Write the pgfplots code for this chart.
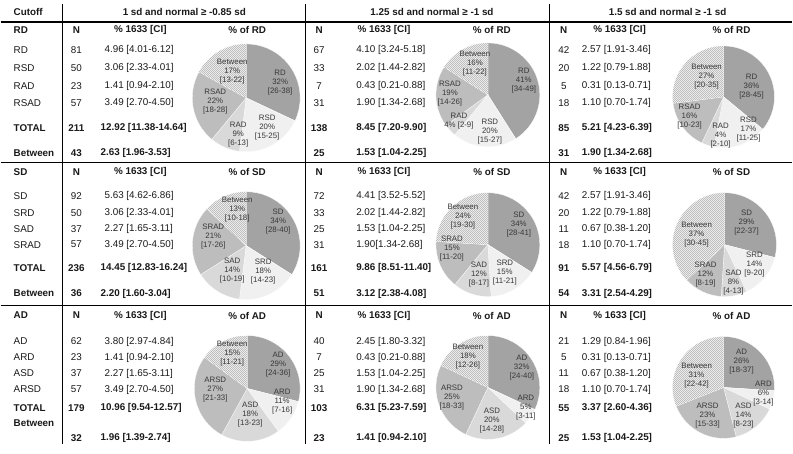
\documentclass[border=0pt]{standalone}
\usepackage{fontspec}
\setmainfont{Liberation Sans}
\usepackage{pgfplots}
\pgfplotsset{compat=1.18}
\usetikzlibrary{patterns}
\definecolor{sA}{HTML}{A3A3A3}
\definecolor{sB}{HTML}{F0F0F0}
\definecolor{sC}{HTML}{D9D9D9}
\definecolor{sD}{HTML}{BDBDBD}
\definecolor{txt}{HTML}{1A1A1A}
\pgfdeclarepatternformonly{checker}{\pgfqpoint{0pt}{0pt}}{\pgfqpoint{2bp}{2bp}}{\pgfqpoint{2bp}{2bp}}%
  {\pgfpathrectangle{\pgfqpoint{0pt}{0pt}}{\pgfqpoint{1bp}{1bp}}%
   \pgfpathrectangle{\pgfqpoint{1bp}{1bp}}{\pgfqpoint{1bp}{1bp}}\pgfusepath{fill}}
\tikzset{
  tb/.style={font=\fontsize{9.9}{11}\selectfont, inner sep=0pt, text=txt},
  tbb/.style={font=\fontsize{9.9}{11}\selectfont\bfseries, inner sep=0pt, text=txt},
  lbl/.style={font=\fontsize{7.9}{9}\selectfont, align=center, inner sep=0pt, text=black!78},
  bt/.style={fill=gray!10, postaction={pattern=checker, pattern color=gray!50}},
}
\newcommand{\ci}[1]{{[}#1{]}}
% one pie slice: cx, cy, radius, from %, to %, style, label, label dx, label dy
\newcommand{\slice}[9]{%
  \fill[#6,draw=white,line width=0.3pt] (axis cs:#1,#2) -- ++({90-3.6*#4}:#3bp)
    arc[start angle={90-3.6*#4},end angle={90-3.6*#5},radius=#3bp] -- cycle;
  \begin{pgfonlayer}{axis foreground}
  \path (axis cs:#1,#2) ++(#8bp,#9bp) node[lbl]{#7};
  \end{pgfonlayer}}
% table rows: y, label, n1, ci1, n2, ci2, n3, ci3
\newcommand{\trow}[8]{%
  \node[tb,anchor=west] at (axis cs:13,#1) {#2};
  \node[tb] at (axis cs:76,#1) {#3};
  \node[tb,anchor=west] at (axis cs:104,#1) {#4};
  \node[tb] at (axis cs:319,#1) {#5};
  \node[tb,anchor=west] at (axis cs:356,#1) {#6};
  \node[tb] at (axis cs:564,#1) {#7};
  \node[tb,anchor=west] at (axis cs:582,#1) {#8};}
\newcommand{\brow}[8]{%
  \node[tbb,anchor=west] at (axis cs:13,#1) {#2};
  \node[tbb] at (axis cs:76,#1) {#3};
  \node[tbb,anchor=west] at (axis cs:100,#1) {#4};
  \node[tbb] at (axis cs:319,#1) {#5};
  \node[tbb,anchor=west] at (axis cs:356,#1) {#6};
  \node[tbb] at (axis cs:564,#1) {#7};
  \node[tbb,anchor=west] at (axis cs:582,#1) {#8};}
\newcommand{\shead}[3]{%
  \node[tbb,anchor=west] at (axis cs:13,#1) {#2};
  \node[tbb] at (axis cs:76,#1) {N};
  \node[tbb] at (axis cs:319,#1) {N};
  \node[tbb] at (axis cs:564,#1) {N};
  \node[tbb] at (axis cs:140,#1) {\% 1633 [CI]};
  \node[tbb] at (axis cs:384,#1) {\% 1633 [CI]};
  \node[tbb] at (axis cs:620,#1) {\% 1633 [CI]};
  \node[tbb] at (axis cs:247,#1) {\% of #3};
  \node[tbb] at (axis cs:492,#1) {\% of #3};
  \node[tbb] at (axis cs:732,#1) {\% of #3};}

\begin{document}
\begin{tikzpicture}
\begin{axis}[hide axis, scale only axis, width=793bp, height=454bp, set layers,
  xmin=0, xmax=793, ymin=0, ymax=454, y dir=reverse, clip=false]
\addplot[draw=none] coordinates {(0,0) (793,454)};
\begin{pgfonlayer}{axis background}
\fill[white] (axis cs:0,0) rectangle (axis cs:793,454);
\end{pgfonlayer}
% rules
\draw[black, line width=1.1pt] (axis cs:0,22) -- (axis cs:793,22);
\draw[black, line width=0.7pt] (axis cs:0,163) -- (axis cs:793,163);
\draw[black, line width=0.7pt] (axis cs:0,306) -- (axis cs:793,306);
\draw[black, line width=0.8pt] (axis cs:62,4) -- (axis cs:62,445);
\draw[black, line width=0.8pt] (axis cs:305,4) -- (axis cs:305,445);
\draw[black, line width=0.8pt] (axis cs:550,4) -- (axis cs:550,445);
% header
\node[tbb,anchor=west] at (axis cs:13,12) {Cutoff};
\node[tbb] at (axis cs:184,12) {1 sd and normal ≥ -0.85 sd};
\node[tbb] at (axis cs:432,12) {1.25 sd and normal ≥ -1 sd};
\node[tbb] at (axis cs:668,12) {1.5 sd and normal ≥ -1 sd};
% section RD
\shead{30}{RD}{RD}
\trow{50}{RD}{81}{4.96 [4.01-6.12]}{67}{4.10 [3.24-5.18]}{42}{2.57 [1.91-3.46]}
\trow{68}{RSD}{50}{3.06 [2.33-4.01]}{33}{2.02 [1.44-2.82]}{20}{1.22 [0.79-1.88]}
\trow{86}{RAD}{23}{1.41 [0.94-2.10]}{7}{0.43 [0.21-0.88]}{5}{0.31 [0.13-0.71]}
\trow{103}{RSAD}{57}{3.49 [2.70-4.50]}{31}{1.90 [1.34-2.68]}{18}{1.10 [0.70-1.74]}
\brow{128}{TOTAL}{211}{12.92 [11.38-14.64]}{138}{8.45 [7.20-9.90]}{85}{5.21 [4.23-6.39]}
\brow{153}{Between}{43}{2.63 [1.96-3.53]}{25}{1.53 [1.04-2.25]}{31}{1.90 [1.34-2.68]}
% section SD
\shead{172}{SD}{SD}
\trow{196}{SD}{92}{5.63 [4.62-6.86]}{72}{4.41 [3.52-5.52]}{42}{2.57 [1.91-3.46]}
\trow{213}{SRD}{50}{3.06 [2.33-4.01]}{33}{2.02 [1.44-2.82]}{20}{1.22 [0.79-1.88]}
\trow{229}{SAD}{37}{2.27 [1.65-3.11]}{25}{1.53 [1.04-2.25]}{11}{0.67 [0.38-1.20]}
\trow{245}{SRAD}{57}{3.49 [2.70-4.50]}{31}{1.90[1.34-2.68]}{18}{1.10 [0.70-1.74]}
\brow{268}{TOTAL}{236}{14.45 [12.83-16.24]}{161}{9.86 [8.51-11.40]}{91}{5.57 [4.56-6.79]}
\brow{294}{Between}{36}{2.20 [1.60-3.04]}{51}{3.12 [2.38-4.08]}{54}{3.31 [2.54-4.29]}
% section AD
\shead{316}{AD}{AD}
\trow{342}{AD}{62}{3.80 [2.97-4.84]}{40}{2.45 [1.80-3.32]}{21}{1.29 [0.84-1.96]}
\trow{358}{ARD}{23}{1.41 [0.94-2.10]}{7}{0.43 [0.21-0.88]}{5}{0.31 [0.13-0.71]}
\trow{374}{ASD}{37}{2.27 [1.65-3.11]}{25}{1.53 [1.04-2.25]}{11}{0.67 [0.38-1.20]}
\trow{390}{ARSD}{57}{3.49 [2.70-4.50]}{31}{1.90 [1.34-2.68]}{18}{1.10 [0.70-1.74]}
\brow{409}{TOTAL}{179}{10.96 [9.54-12.57]}{103}{6.31 [5.23-7.59]}{55}{3.37 [2.60-4.36]}
\node[tbb,anchor=west] at (axis cs:13,424) {Between};
\brow{439}{}{32}{1.96 [1.39-2.74]}{23}{1.41 [0.94-2.10]}{25}{1.53 [1.04-2.25]}
% pies: RD
\slice{246}{98}{54}{0}{32}{fill=sA}{RD\\32\%\\\ci{26-38}}{34}{15}
\slice{246}{98}{54}{32}{52}{fill=sB}{RSD\\20\%\\\ci{15-25}}{21}{-30}
\slice{246}{98}{54}{52}{61}{fill=sC}{RAD\\9\%\\\ci{6-13}}{-8}{-37}
\slice{246}{98}{54}{61}{83}{fill=sD}{RSAD\\22\%\\\ci{18-28}}{-31}{-4}
\slice{246}{98}{54}{83}{100}{bt}{Between\\17\%\\\ci{13-22}}{-14}{26}
\slice{488}{95}{52}{0}{41}{fill=sA}{RD\\41\%\\\ci{34-49}}{36}{14}
\slice{488}{95}{52}{41}{61}{fill=sB}{RSD\\20\%\\\ci{15-27}}{2}{-37}
\slice{488}{95}{52}{61}{65}{fill=sC}{RAD\\4\% \ci{2-9}}{-29}{-26}
\slice{488}{95}{52}{65}{84}{fill=sD}{RSAD\\19\%\\\ci{14-26}}{-38}{1}
\slice{488}{95}{52}{84}{100}{bt}{Between\\16\%\\\ci{11-22}}{-13}{31}
\slice{724}{97}{51}{0}{36}{fill=sA}{RD\\36\%\\\ci{28-45}}{28}{10}
\slice{724}{97}{51}{36}{53}{fill=sB}{RSD\\17\%\\\ci{11-25}}{25}{-33}
\slice{724}{97}{51}{53}{57}{fill=sC}{RAD\\4\%\\\ci{2-10}}{-3}{-39}
\slice{724}{97}{51}{57}{73}{fill=sD}{RSAD\\16\%\\\ci{10-23}}{-34}{-20}
\slice{724}{97}{51}{73}{100}{bt}{Between\\27\%\\\ci{20-35}}{-17}{20}
% pies: SD
\slice{246}{246}{54}{0}{34}{fill=sA}{SD\\34\%\\\ci{28-40}}{32}{24}
\slice{246}{246}{54}{34}{52}{fill=sB}{SRD\\18\%\\\ci{14-23}}{17}{-26}
\slice{246}{246}{54}{52}{66}{fill=sC}{SAD\\14\%\\\ci{10-19}}{-14}{-25}
\slice{246}{246}{54}{66}{87}{fill=sD}{SRAD\\21\%\\\ci{17-26}}{-33}{9}
\slice{246}{246}{54}{87}{100}{bt}{Between\\13\%\\\ci{10-18}}{-9}{36}
\slice{488}{245}{52}{0}{34}{fill=sA}{SD\\34\%\\\ci{28-41}}{31}{20}
\slice{488}{245}{52}{34}{49}{fill=sB}{SRD\\15\%\\\ci{11-21}}{17}{-28}
\slice{488}{245}{52}{49}{61}{fill=sC}{SAD\\12\%\\\ci{8-17}}{-9}{-30}
\slice{488}{245}{52}{61}{76}{fill=sD}{SRAD\\15\%\\\ci{11-20}}{-36}{-4}
\slice{488}{245}{52}{76}{100}{bt}{Between\\24\%\\\ci{19-30}}{-25}{28}
\slice{725}{245}{52}{0}{29}{fill=sA}{SD\\29\%\\\ci{22-37}}{22}{22}
\slice{725}{245}{52}{29}{43}{fill=sB}{SRD\\14\%\\\ci{9-20}}{30}{-20}
\slice{725}{245}{52}{43}{51}{fill=sC}{SAD\\8\%\\\ci{4-13}}{9}{-38}
\slice{725}{245}{52}{51}{63}{fill=sD}{SRAD\\12\%\\\ci{8-19}}{-19}{-30}
\slice{725}{245}{52}{63}{100}{bt}{Between\\37\%\\\ci{30-45}}{-28}{10}
% pies: AD
\slice{247}{389}{53}{0}{29}{fill=sA}{AD\\29\%\\\ci{24-36}}{31}{24}
\slice{247}{389}{53}{29}{40}{fill=sB}{ARD\\11\%\\\ci{7-16}}{35}{-13}
\slice{247}{389}{53}{40}{58}{fill=sC}{ASD\\18\%\\\ci{13-23}}{3}{-26}
\slice{247}{389}{53}{58}{85}{fill=sD}{ARSD\\27\%\\\ci{21-33}}{-32}{-1}
\slice{247}{389}{53}{85}{100}{bt}{Between\\15\%\\\ci{11-21}}{-15}{35}
\slice{488}{388}{52}{0}{32}{fill=sA}{AD\\32\%\\\ci{24-40}}{34}{20}
\slice{488}{388}{52}{32}{37}{fill=sB}{ARD\\5\%\\\ci{3-11}}{38}{-20}
\slice{488}{388}{52}{37}{57}{fill=sC}{ASD\\20\%\\\ci{14-28}}{4}{-33}
\slice{488}{388}{52}{57}{82}{fill=sD}{ARSD\\25\%\\\ci{18-33}}{-36}{-10}
\slice{488}{388}{52}{82}{100}{bt}{Between\\18\%\\\ci{12-26}}{-20}{31}
\slice{724}{388}{51}{0}{26}{fill=sA}{AD\\26\%\\\ci{18-37}}{18}{26}
\slice{724}{388}{51}{26}{32}{fill=sB}{ARD\\6\%\\\ci{3-14}}{40}{-6}
\slice{724}{388}{51}{32}{46}{fill=sC}{ASD\\14\%\\\ci{8-23}}{20}{-28}
\slice{724}{388}{51}{46}{69}{fill=sD}{ARSD\\23\%\\\ci{15-33}}{-16}{-28}
\slice{724}{388}{51}{69}{100}{bt}{Between\\31\%\\\ci{22-42}}{-27}{12}
\end{axis}
\end{tikzpicture}
\end{document}
